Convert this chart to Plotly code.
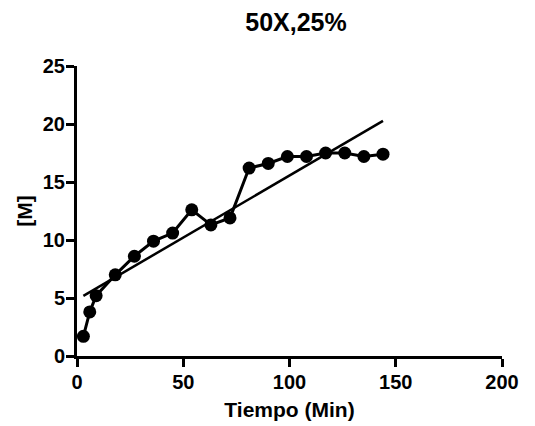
import numpy as np
import plotly.graph_objects as go

title_text = "50X,25%"
x_label = "Tiempo (Min)"
y_label = "[M]"

tiempo = [3, 6, 9, 18, 27, 36, 45, 54, 63, 72, 81, 90, 99, 108, 117, 126, 135, 144]
conc = [1.7, 3.8, 5.2, 7.0, 8.6, 9.9, 10.6, 12.6, 11.3, 11.9, 16.2, 16.6, 17.2, 17.2, 17.5, 17.5, 17.2, 17.4]

x_ticks = [0, 50, 100, 150, 200]
y_ticks = [0, 5, 10, 15, 20, 25]

slope, intercept = np.polyfit(tiempo, conc, 1)
fit_x = [min(tiempo), max(tiempo)]
fit_y = [slope * v + intercept for v in fit_x]

FONT = "Liberation Sans, Arial, sans-serif"

fig = go.Figure()
fig.add_trace(go.Scatter(x=fit_x, y=fit_y, mode="lines",
                         line=dict(color="black", width=2.5), showlegend=False))
fig.add_trace(go.Scatter(x=tiempo, y=conc, mode="lines+markers",
                         line=dict(color="black", width=3),
                         marker=dict(color="black", size=13),
                         showlegend=False, cliponaxis=False))

axis_common = dict(
    showline=True, linecolor="black", linewidth=3,
    ticks="outside", ticklen=8, tickwidth=3, tickcolor="black",
    showgrid=False, zeroline=False, automargin=False,
    tickfont=dict(family=FONT, size=20, color="black"),
)

fig.update_layout(
    width=535, height=426,
    margin=dict(l=77, r=33, t=66, b=70),
    paper_bgcolor="white", plot_bgcolor="white",
    title=dict(text="<b>" + title_text + "</b>", x=296 / 535, xanchor="center", y=1 - 22 / 426, yanchor="middle",
               font=dict(family=FONT, size=25, color="black")),
    xaxis=dict(range=[0, 200], tickvals=x_ticks, ticktext=[f"<b>{v}</b>" for v in x_ticks],
               ticklabelstandoff=-2,
               title=dict(text="<b>" + x_label + "</b>", standoff=11,
                          font=dict(family=FONT, size=21, color="black")),
               **axis_common),
    yaxis=dict(range=[0, 25], tickvals=y_ticks, ticktext=[f"<b>{v}</b>" for v in y_ticks],
               ticklabelstandoff=-3,
               title=dict(text="<b>" + y_label + "</b>", standoff=5,
                          font=dict(family=FONT, size=21, color="black")),
               **axis_common),
)

fig.write_html("out.html")
